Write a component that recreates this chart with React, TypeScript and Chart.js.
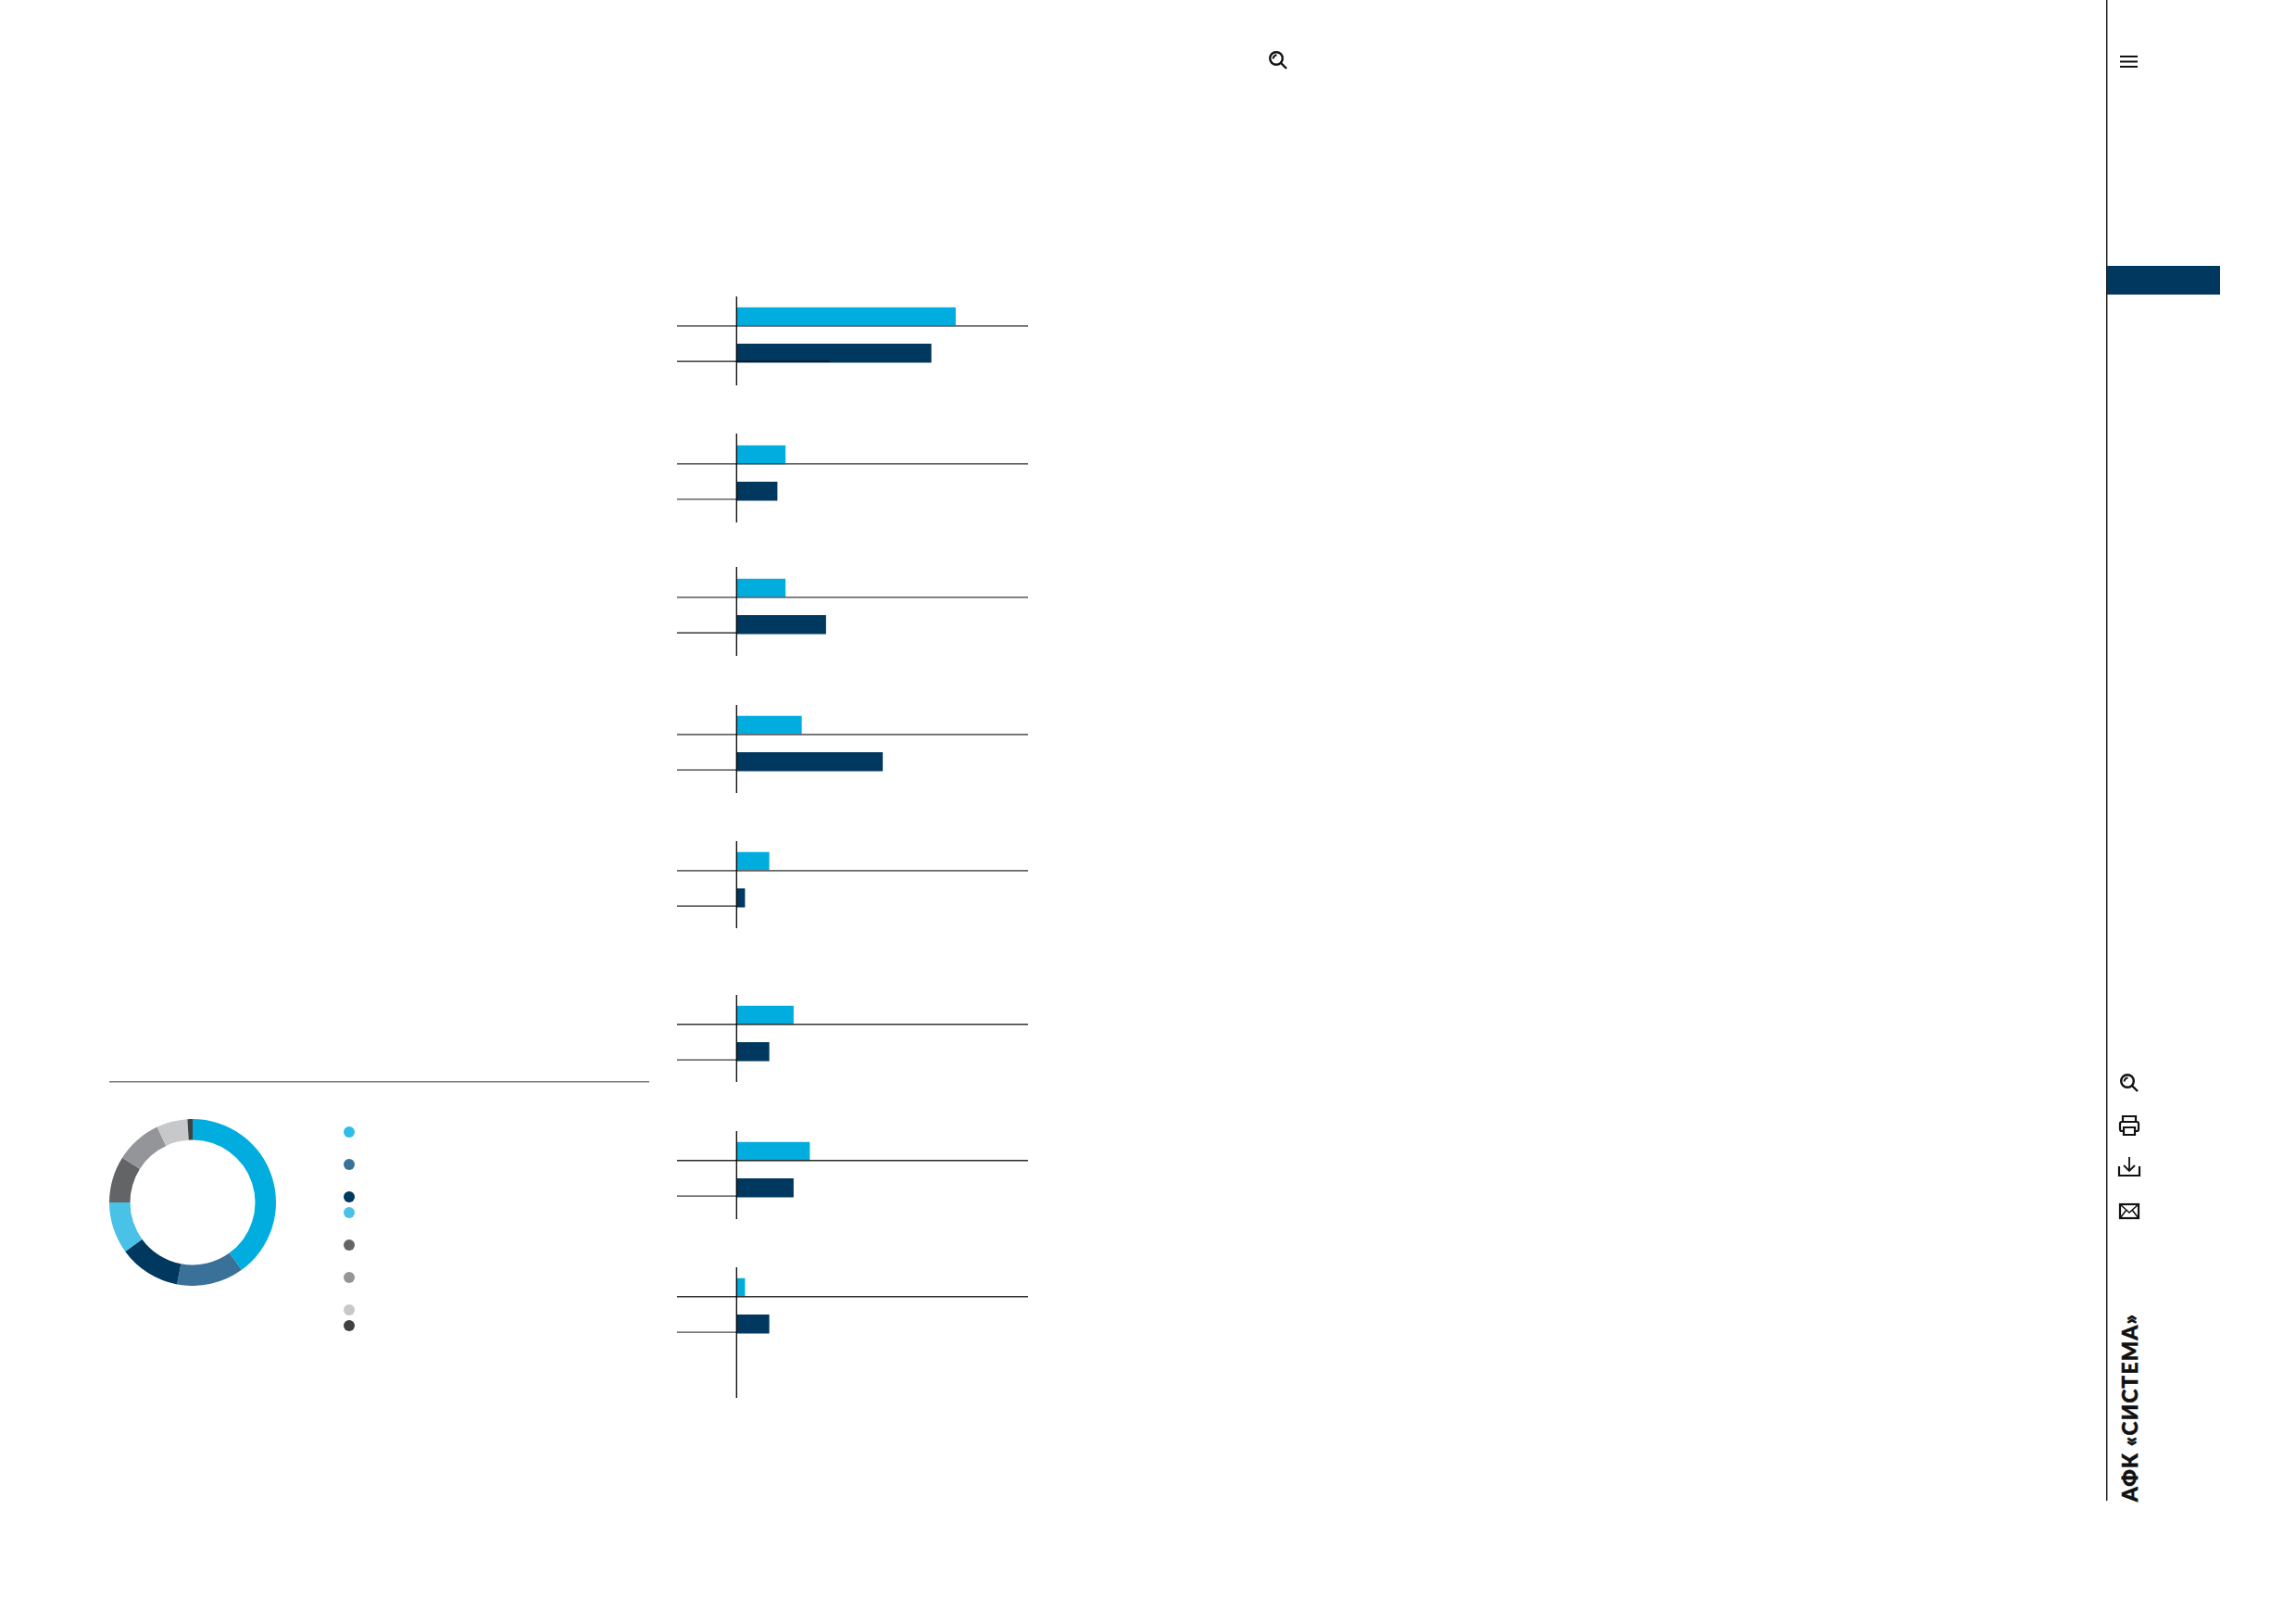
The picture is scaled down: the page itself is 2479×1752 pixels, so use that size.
import React, { useEffect, useRef } from "react";
import { Chart, registerables } from "chart.js";

Chart.register(...registerables);

// ---- data ----
const categories = ["A", "B"];
const seriesA = [27, 6, 6, 8, 4, 7, 9, 1];
const seriesB = [24, 5, 11, 18, 1, 4, 7, 4];
const seriesAColor = "#00ADDE";
const seriesBColor = "#00385F";

const shareValues = [40, 13, 12, 10, 9, 9, 6, 1];
const shareLabels = ["1", "2", "3", "4", "5", "6", "7", "8"];
const shareColors = ["#00ADDE", "#3A7199", "#00385F", "#4AC1E6", "#636466", "#939598", "#C7C8CA", "#414042"];
const legendDotColors = ["#30BEE8", "#3A7199", "#00385F", "#4AC1E6", "#636466", "#939598", "#C7C8CA", "#414042"];
const legendRowLines = [2, 2, 1, 2, 2, 2, 1, 1];

// ---- layout of the eight small charts ----
const axisTops = [320, 468, 612, 761, 908, 1074, 1221, 1368];
const axisBottoms = [416, 564, 708, 856, 1002, 1168, 1316, 1509];
const barTops = [332, 481, 625, 773, 920, 1086, 1233, 1380];
const upperRuleColors = ["#666666", "#4a4a4a", "#5a5a5a", "#666666", "#666666", "#333333", "#2a2a2a", "#333333"];
const lowerRuleColors = ["#111111", "#666666", "#111111", "#333333", "#666666", "#3a3a3a", "#3a3a3a", "#4a4a4a"];
const upperRuleWidths = [1.8, 1.5, 1.5, 1.8, 1.8, 1.4, 1.4, 1.4];
const lowerRuleWidths = [1.2, 1.5, 1.2, 1.3, 1.8, 1.4, 1.4, 1.4];
const lowerRuleOverrun = [11.5, 0, 0, 0, 0, 0, 0, 0];

const LEFT = 731;
const RIGHT = 1110;
const AXIS_X = 795.3;
const PX_PER_UNIT = 8.75;
const BAR_H = 19.8;
const BAND = 39.3;

const rulesPlugin = {
  id: "rules",
  afterDatasetsDraw(chart: any, _args: any, opts: any) {
    const { ctx } = chart;
    const x0 = chart.scales.x.getPixelForValue(0);
    const bar0 = chart.getDatasetMeta(0).data[0] as any;
    const bar1 = chart.getDatasetMeta(1).data[1] as any;
    const y0 = bar0.y + bar0.height / 2;
    const y1 = bar1.y + bar1.height / 2 - 1;
    const w = chart.width;
    ctx.save();
    ctx.lineCap = "butt";
    ctx.strokeStyle = opts.upperColor;
    ctx.lineWidth = opts.upperWidth;
    ctx.beginPath();
    ctx.moveTo(0, y0);
    ctx.lineTo(w, y0);
    ctx.stroke();
    ctx.strokeStyle = opts.lowerColor;
    ctx.lineWidth = opts.lowerWidth;
    ctx.beginPath();
    ctx.moveTo(0, y1);
    ctx.lineTo(opts.overrun ? chart.scales.x.getPixelForValue(opts.overrun) : x0, y1);
    ctx.stroke();
    ctx.strokeStyle = "#000000";
    ctx.lineWidth = 1.3;
    ctx.beginPath();
    ctx.moveTo(x0, 0);
    ctx.lineTo(x0, chart.height);
    ctx.stroke();
    ctx.restore();
  },
};

function SmallBars({ index }: { index: number }) {
  const ref = useRef<HTMLCanvasElement | null>(null);
  const top = axisTops[index];
  const height = axisBottoms[index] - top;
  useEffect(() => {
    const padTop = barTops[index] + BAR_H / 2 - BAND / 2 - top;
    const chart = new Chart(ref.current as HTMLCanvasElement, {
      type: "bar",
      data: {
        labels: categories,
        datasets: [
          { data: [seriesA[index], null], backgroundColor: seriesAColor, barThickness: BAR_H, grouped: false } as any,
          { data: [null, seriesB[index]], backgroundColor: seriesBColor, barThickness: BAR_H, grouped: false } as any,
        ],
      },
      options: {
        indexAxis: "y",
        animation: false,
        responsive: false,
        devicePixelRatio: 1,
        layout: { padding: { top: padTop, bottom: height - padTop - 2 * BAND, left: 0, right: 0 } },
        scales: {
          x: {
            display: false,
            min: -(AXIS_X - LEFT) / PX_PER_UNIT,
            max: (RIGHT - AXIS_X) / PX_PER_UNIT,
          },
          y: { display: false },
        },
        plugins: {
          legend: { display: false },
          tooltip: { enabled: false },
          rules: {
            upperColor: upperRuleColors[index],
            lowerColor: lowerRuleColors[index],
            upperWidth: upperRuleWidths[index],
            lowerWidth: lowerRuleWidths[index],
            overrun: lowerRuleOverrun[index],
          },
        } as any,
      },
      plugins: [rulesPlugin],
    } as any);
    return () => chart.destroy();
  }, [index, top, height]);
  return (
    <canvas
      ref={ref}
      width={RIGHT - LEFT}
      height={height}
      style={{ position: "absolute", left: LEFT, top, width: RIGHT - LEFT, height }}
    />
  );
}

function Donut() {
  const ref = useRef<HTMLCanvasElement | null>(null);
  useEffect(() => {
    const chart = new Chart(ref.current as HTMLCanvasElement, {
      type: "doughnut",
      data: {
        labels: shareLabels,
        datasets: [{ data: shareValues, backgroundColor: shareColors, borderWidth: 0 }],
      },
      options: {
        animation: false,
        responsive: false,
        devicePixelRatio: 1,
        cutout: "75%",
        plugins: { legend: { display: false }, tooltip: { enabled: false } },
      },
    });
    return () => chart.destroy();
  }, []);
  return (
    <canvas
      ref={ref}
      width={180}
      height={180}
      style={{ position: "absolute", left: 118, top: 1208, width: 180, height: 180 }}
    />
  );
}

function LegendDots() {
  return (
    <div style={{ position: "absolute", left: 371, top: 1216 }}>
      {legendDotColors.map((c, i) => (
        <div key={i} style={{ height: legendRowLines[i] * 17.45 }}>
          <div style={{ width: 12, height: 12, borderRadius: "50%", background: c }} />
        </div>
      ))}
    </div>
  );
}

function SearchIcon({ x, y }: { x: number; y: number }) {
  return (
    <g transform={`translate(${x} ${y})`} fill="none" stroke="#111" strokeWidth={2.4}>
      <circle cx={8} cy={8} r={6.8} />
      <path d="M4.6 8.5 A3.8 3.8 0 0 1 8.5 4.6" strokeWidth={2} />
      <path d="M13 13 L19 19" strokeWidth={2.4} />
    </g>
  );
}

function Chrome() {
  return (
    <svg width={2479} height={1752} style={{ position: "absolute", left: 0, top: 0 }}>
      <rect x={118} y={1167} width={583} height={1.5} fill="#7a7a7a" />
      <rect x={2274} y={0} width={1.4} height={1620} fill="#111" />
      <rect x={2275} y={287} width={122} height={31} fill="#00385F" />
      <SearchIcon x={1370} y={55} />
      <g stroke="#111" strokeWidth={2}>
        <line x1={2289} y1={61} x2={2308} y2={61} />
        <line x1={2289} y1={66.5} x2={2308} y2={66.5} />
        <line x1={2289} y1={72} x2={2308} y2={72} />
      </g>
      <SearchIcon x={2289} y={1159} />
      <g fill="none" stroke="#111" strokeWidth={2.2}>
        {/* printer */}
        <path d="M2292 1211 V1205 H2306 V1211" />
        <rect x={2289} y={1211} width={20} height={10} rx={2} />
        <path d="M2293 1217 H2305 V1225 H2293 Z" fill="#fff" />
        {/* download */}
        <path d="M2288 1259 V1269 H2310 V1259" />
        <path d="M2299 1249 V1264 M2293 1258 L2299 1264 L2305 1258" strokeWidth={1.8} />
        {/* mail */}
        <rect x={2289} y={1300} width={20} height={15} strokeWidth={2.2} />
        <path d="M2289 1300 L2299 1309 L2309 1300 M2289 1315 L2296 1306 M2309 1315 L2302 1306" strokeWidth={1.5} />
      </g>
      <text
        transform="translate(2307.5 1621) rotate(-90)"
        fontFamily="Lato"
        fontWeight={900}
        fontSize={22.5}
        letterSpacing={1.3}
        fill="#111"
        stroke="#111"
        strokeWidth={0.6}
      >
        АФК «СИСТЕМА»
      </text>
    </svg>
  );
}

export default function App() {
  return (
    <div style={{ position: "absolute", left: 0, top: 0, width: 2479, height: 1752, overflow: "hidden", background: "#fff" }}>
      <Chrome />
      {seriesA.map((_, i) => (
        <SmallBars key={i} index={i} />
      ))}
      <Donut />
      <LegendDots />
    </div>
  );
}
